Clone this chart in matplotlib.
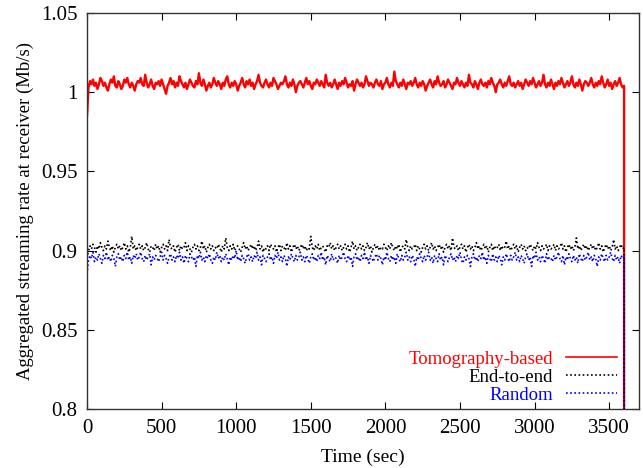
import numpy as np
import matplotlib.pyplot as plt

plt.rcParams['font.family'] = ['Liberation Serif', 'DejaVu Serif']

# samples every 10 s, the streams stop at 3600 s
time = np.arange(0, 3601, 10)
end_time = 3600
end_rate = 0.0

tomography = [
    0.985, 1.003, 1.007, 1.005, 1.008, 1.004, 1.006, 1.002, 1.005, 1.009, 1.007, 1.004,
    1.006, 1.003, 1.001, 1.005, 1.008, 1.006, 1.010, 1.004, 1.003, 1.007, 1.005, 1.002,
    1.004, 1.008, 1.006, 1.009, 1.005, 1.003, 1.006, 1.004, 1.001, 1.005, 1.007, 1.006,
    1.009, 1.005, 1.004, 1.011, 1.006, 1.003, 1.005, 1.008, 1.004, 1.002, 1.006, 1.005,
    1.007, 1.004, 1.008, 1.005, 1.002, 0.999, 1.004, 1.006, 1.009, 1.005, 1.007, 1.003,
    1.006, 1.004, 1.010, 1.007, 1.005, 1.003, 1.006, 1.002, 1.005, 1.008, 1.006, 1.004,
    1.003, 1.007, 1.005, 1.012, 1.006, 1.004, 1.008, 1.005, 1.001, 1.004, 1.006, 1.003,
    1.005, 1.009, 1.006, 1.004, 1.007, 1.005, 1.002, 1.006, 1.004, 1.008, 1.010, 1.005,
    1.003, 1.006, 1.004, 1.007, 1.005, 1.001, 1.004, 1.006, 1.009, 1.005, 1.003, 1.007,
    1.005, 1.008, 1.004, 1.006, 1.002, 1.005, 1.007, 1.011, 1.006, 1.004, 1.003, 1.006,
    1.008, 1.005, 1.003, 1.006, 1.004, 1.009, 1.007, 1.005, 1.002, 1.004, 1.006, 1.005,
    1.007, 1.010, 1.005, 1.003, 1.006, 1.004, 1.008, 1.005, 1.000, 1.004, 1.006, 1.007,
    1.005, 1.003, 1.006, 1.009, 1.005, 1.007, 1.004, 1.002, 1.006, 1.005, 1.008, 1.006,
    1.004, 1.007, 1.005, 1.003, 1.011, 1.006, 1.004, 1.006, 1.003, 1.005, 1.008, 1.005,
    1.002, 1.006, 1.004, 1.007, 1.005, 1.009, 1.006, 1.003, 1.005, 1.004, 1.007, 1.001,
    1.005, 1.008, 1.006, 1.004, 1.006, 1.003, 1.005, 1.010, 1.007, 1.004, 1.006, 1.005,
    1.003, 1.006, 1.008, 1.005, 1.004, 1.007, 1.002, 1.005, 1.006, 1.009, 1.005, 1.003,
    1.006, 1.004, 1.013, 1.007, 1.005, 1.003, 1.006, 1.004, 1.008, 1.005, 1.002, 1.006,
    1.005, 1.007, 1.004, 1.006, 1.009, 1.005, 1.003, 1.006, 1.004, 1.007, 1.005, 1.001,
    1.004, 1.006, 1.008, 1.005, 1.003, 1.007, 1.005, 1.010, 1.006, 1.004, 1.005, 1.007,
    1.003, 1.005, 1.008, 1.006, 1.004, 1.002, 1.006, 1.005, 1.009, 1.006, 1.004, 1.007,
    1.005, 1.003, 1.006, 1.004, 1.011, 1.006, 1.005, 1.003, 1.007, 1.005, 1.002, 1.006,
    1.008, 1.005, 1.004, 1.006, 1.003, 1.007, 1.005, 1.009, 1.006, 1.004, 1.000, 1.005,
    1.006, 1.008, 1.005, 1.003, 1.006, 1.004, 1.007, 1.010, 1.005, 1.004, 1.006, 1.003,
    1.005, 1.007, 1.004, 1.006, 1.002, 1.005, 1.008, 1.006, 1.004, 1.007, 1.005, 1.009,
    1.006, 1.003, 1.005, 1.007, 1.004, 1.006, 1.011, 1.005, 1.003, 1.006, 1.004, 1.008,
    1.005, 1.002, 1.006, 1.004, 1.007, 1.005, 1.009, 1.006, 1.003, 1.005, 1.007, 1.004,
    1.006, 1.010, 1.005, 1.003, 1.006, 1.004, 1.008, 1.005, 1.001, 1.005, 1.007, 1.006,
    1.004, 1.006, 1.009, 1.005, 1.003, 1.006, 1.004, 1.007, 1.005, 1.010, 1.006, 1.003,
    1.005, 1.008, 1.004, 1.006, 1.002, 1.005, 1.007, 1.004, 1.006, 1.009, 1.005, 1.003,
    1.004,
]

end_to_end = [
    0.895, 0.900, 0.903, 0.901, 0.904, 0.902, 0.899, 0.903, 0.901, 0.905, 0.902, 0.900,
    0.903, 0.901, 0.906, 0.902, 0.900, 0.903, 0.899, 0.902, 0.904, 0.901, 0.903, 0.900,
    0.902, 0.905, 0.901, 0.903, 0.899, 0.902, 0.909, 0.901, 0.903, 0.900, 0.902, 0.904,
    0.901, 0.903, 0.900, 0.902, 0.905, 0.901, 0.899, 0.903, 0.902, 0.900, 0.904, 0.901,
    0.903, 0.899, 0.902, 0.904, 0.901, 0.903, 0.900, 0.907, 0.902, 0.901, 0.903, 0.899,
    0.902, 0.904, 0.900, 0.903, 0.901, 0.902, 0.905, 0.900, 0.903, 0.901, 0.899, 0.902,
    0.904, 0.901, 0.903, 0.900, 0.902, 0.906, 0.901, 0.903, 0.899, 0.902, 0.904, 0.901,
    0.903, 0.900, 0.902, 0.901, 0.904, 0.902, 0.899, 0.903, 0.901, 0.908, 0.902, 0.900,
    0.903, 0.901, 0.904, 0.900, 0.902, 0.903, 0.901, 0.899, 0.902, 0.905, 0.901, 0.903,
    0.900, 0.902, 0.904, 0.901, 0.903, 0.900, 0.902, 0.906, 0.901, 0.903, 0.899, 0.902,
    0.901, 0.903, 0.900, 0.904, 0.902, 0.901, 0.903, 0.899, 0.902, 0.904, 0.900, 0.903,
    0.902, 0.900, 0.905, 0.901, 0.903, 0.899, 0.902, 0.904, 0.901, 0.903, 0.900, 0.902,
    0.904, 0.901, 0.903, 0.900, 0.902, 0.901, 0.909, 0.902, 0.900, 0.903, 0.901, 0.904,
    0.900, 0.902, 0.903, 0.901, 0.899, 0.903, 0.902, 0.905, 0.901, 0.903, 0.900, 0.902,
    0.904, 0.901, 0.903, 0.900, 0.902, 0.904, 0.901, 0.903, 0.899, 0.902, 0.906, 0.901,
    0.903, 0.900, 0.902, 0.904, 0.901, 0.903, 0.900, 0.902, 0.905, 0.901, 0.903, 0.899,
    0.902, 0.904, 0.901, 0.903, 0.900, 0.902, 0.901, 0.904, 0.902, 0.900, 0.903, 0.901,
    0.905, 0.902, 0.900, 0.903, 0.901, 0.904, 0.899, 0.902, 0.903, 0.901, 0.907, 0.902,
    0.900, 0.903, 0.901, 0.902, 0.904, 0.900, 0.903, 0.901, 0.899, 0.902, 0.904, 0.901,
    0.903, 0.900, 0.902, 0.905, 0.901, 0.903, 0.900, 0.902, 0.904, 0.901, 0.903, 0.899,
    0.902, 0.904, 0.901, 0.903, 0.900, 0.908, 0.902, 0.901, 0.903, 0.900, 0.902, 0.904,
    0.901, 0.903, 0.899, 0.902, 0.904, 0.901, 0.903, 0.900, 0.902, 0.905, 0.901, 0.903,
    0.900, 0.902, 0.904, 0.901, 0.903, 0.899, 0.902, 0.904, 0.900, 0.903, 0.901, 0.902,
    0.904, 0.900, 0.903, 0.901, 0.902, 0.906, 0.901, 0.903, 0.900, 0.902, 0.904, 0.901,
    0.903, 0.899, 0.902, 0.904, 0.901, 0.903, 0.900, 0.902, 0.901, 0.904, 0.902, 0.900,
    0.903, 0.901, 0.905, 0.902, 0.900, 0.903, 0.901, 0.902, 0.904, 0.900, 0.903, 0.901,
    0.902, 0.904, 0.900, 0.903, 0.901, 0.902, 0.905, 0.901, 0.903, 0.899, 0.902, 0.904,
    0.901, 0.903, 0.900, 0.902, 0.908, 0.901, 0.903, 0.900, 0.902, 0.904, 0.901, 0.903,
    0.900, 0.902, 0.904, 0.901, 0.903, 0.900, 0.902, 0.905, 0.901, 0.903, 0.899, 0.902,
    0.904, 0.901, 0.903, 0.900, 0.902, 0.907, 0.901, 0.903, 0.900, 0.902, 0.904, 0.901,
    0.902,
]

random_sel = [
    0.885, 0.894, 0.897, 0.895, 0.899, 0.893, 0.896, 0.894, 0.898, 0.895, 0.892, 0.897,
    0.895, 0.899, 0.894, 0.896, 0.893, 0.897, 0.895, 0.890, 0.896, 0.898, 0.894, 0.896,
    0.893, 0.897, 0.895, 0.899, 0.894, 0.896, 0.892, 0.897, 0.895, 0.898, 0.894, 0.896,
    0.899, 0.895, 0.893, 0.897, 0.894, 0.896, 0.898, 0.891, 0.896, 0.894, 0.897, 0.895,
    0.893, 0.896, 0.899, 0.894, 0.897, 0.895, 0.892, 0.896, 0.898, 0.894, 0.896, 0.893,
    0.897, 0.895, 0.899, 0.894, 0.896, 0.892, 0.897, 0.895, 0.893, 0.898, 0.896, 0.894,
    0.896, 0.890, 0.897, 0.895, 0.899, 0.894, 0.896, 0.893, 0.897, 0.895, 0.898, 0.894,
    0.892, 0.896, 0.894, 0.899, 0.895, 0.897, 0.893, 0.896, 0.894, 0.898, 0.895, 0.891,
    0.896, 0.894, 0.897, 0.895, 0.900, 0.894, 0.896, 0.893, 0.897, 0.895, 0.892, 0.896,
    0.898, 0.894, 0.896, 0.893, 0.897, 0.895, 0.899, 0.894, 0.896, 0.891, 0.897, 0.895,
    0.893, 0.896, 0.898, 0.894, 0.896, 0.892, 0.897, 0.895, 0.899, 0.894, 0.896, 0.893,
    0.897, 0.895, 0.890, 0.896, 0.894, 0.898, 0.895, 0.893, 0.897, 0.894, 0.896, 0.899,
    0.894, 0.896, 0.893, 0.897, 0.895, 0.892, 0.896, 0.898, 0.894, 0.896, 0.893, 0.897,
    0.895, 0.899, 0.894, 0.896, 0.891, 0.897, 0.895, 0.893, 0.898, 0.894, 0.896, 0.895,
    0.892, 0.897, 0.894, 0.896, 0.899, 0.895, 0.893, 0.897, 0.894, 0.896, 0.890, 0.896,
    0.898, 0.894, 0.896, 0.893, 0.897, 0.895, 0.899, 0.894, 0.896, 0.892, 0.897, 0.895,
    0.893, 0.896, 0.898, 0.894, 0.897, 0.895, 0.891, 0.896, 0.894, 0.899, 0.895, 0.893,
    0.897, 0.894, 0.896, 0.892, 0.898, 0.895, 0.893, 0.897, 0.894, 0.896, 0.899, 0.894,
    0.896, 0.893, 0.897, 0.895, 0.890, 0.896, 0.894, 0.898, 0.895, 0.893, 0.897, 0.894,
    0.896, 0.899, 0.894, 0.896, 0.892, 0.897, 0.895, 0.893, 0.898, 0.894, 0.896, 0.891,
    0.897, 0.895, 0.893, 0.896, 0.898, 0.894, 0.896, 0.893, 0.897, 0.895, 0.899, 0.894,
    0.892, 0.896, 0.894, 0.897, 0.895, 0.890, 0.896, 0.898, 0.894, 0.896, 0.893, 0.897,
    0.895, 0.899, 0.894, 0.896, 0.892, 0.897, 0.895, 0.893, 0.898, 0.894, 0.896, 0.893,
    0.897, 0.895, 0.891, 0.896, 0.894, 0.898, 0.895, 0.893, 0.897, 0.894, 0.896, 0.899,
    0.894, 0.896, 0.893, 0.897, 0.895, 0.892, 0.896, 0.898, 0.894, 0.896, 0.890, 0.897,
    0.895, 0.899, 0.894, 0.896, 0.893, 0.897, 0.895, 0.892, 0.898, 0.894, 0.896, 0.895,
    0.893, 0.897, 0.894, 0.896, 0.899, 0.895, 0.893, 0.897, 0.891, 0.896, 0.894, 0.898,
    0.895, 0.893, 0.897, 0.894, 0.896, 0.892, 0.898, 0.895, 0.893, 0.897, 0.894, 0.896,
    0.899, 0.894, 0.896, 0.893, 0.897, 0.895, 0.890, 0.896, 0.894, 0.898, 0.895, 0.893,
    0.897, 0.894, 0.896, 0.899, 0.895, 0.893, 0.897, 0.894, 0.896, 0.892, 0.897, 0.895,
    0.896,
]

series = [
    ('Tomography-based', tomography, '#ff0000', '-', 1.7),
    ('End-to-end', end_to_end, '#000000', (0, (1, 1.5)), 1.2),
    ('Random', random_sel, '#0000ff', (0, (1, 1.5)), 1.2),
]

fig = plt.figure(figsize=(6.43, 4.68), dpi=100)
ax = fig.add_axes([87 / 643, 1 - 409 / 468, 552 / 643, 396 / 468])

for label, vals, color, ls, lw in series:
    # the stream drops to zero right at the end
    x = np.append(time, end_time)
    y = np.append(vals, end_rate)
    ax.plot(x, y, color=color, linestyle=ls, linewidth=lw, label=label)

ax.set_xlim(0, 3700)
ax.set_ylim(0.8, 1.05)
ax.set_xticks(np.arange(0, 3501, 500))
ax.set_yticks([0.8, 0.85, 0.9, 0.95, 1.0, 1.05])
ax.set_yticklabels(['0.8', '0.85', '0.9', '0.95', '1', '1.05'])
ax.tick_params(direction='in', top=True, right=True, length=5, labelsize=15, pad=7)
for s in ax.spines.values():
    s.set_linewidth(1.0)
    s.set_color('#333333')

ax.set_xlabel('Time (sec)', fontsize=14, labelpad=8)
ax.set_ylabel('Aggregated streaming rate at receiver (Mb/s)', fontsize=13.5, labelpad=5)

leg = ax.legend(loc='lower right', bbox_to_anchor=(530 / 552, 5 / 396),
                markerfirst=False, frameon=False, fontsize=13.5, labelcolor='linecolor',
                handlelength=2.7, handletextpad=0.7, labelspacing=0.05,
                borderpad=0, borderaxespad=0)
for t in leg.get_texts():
    t.set_ha('right')
# legend samples keep a plain thin stroke
for h in leg.get_lines():
    h.set_linewidth(1.2)

fig.savefig('out.png', dpi=100)
